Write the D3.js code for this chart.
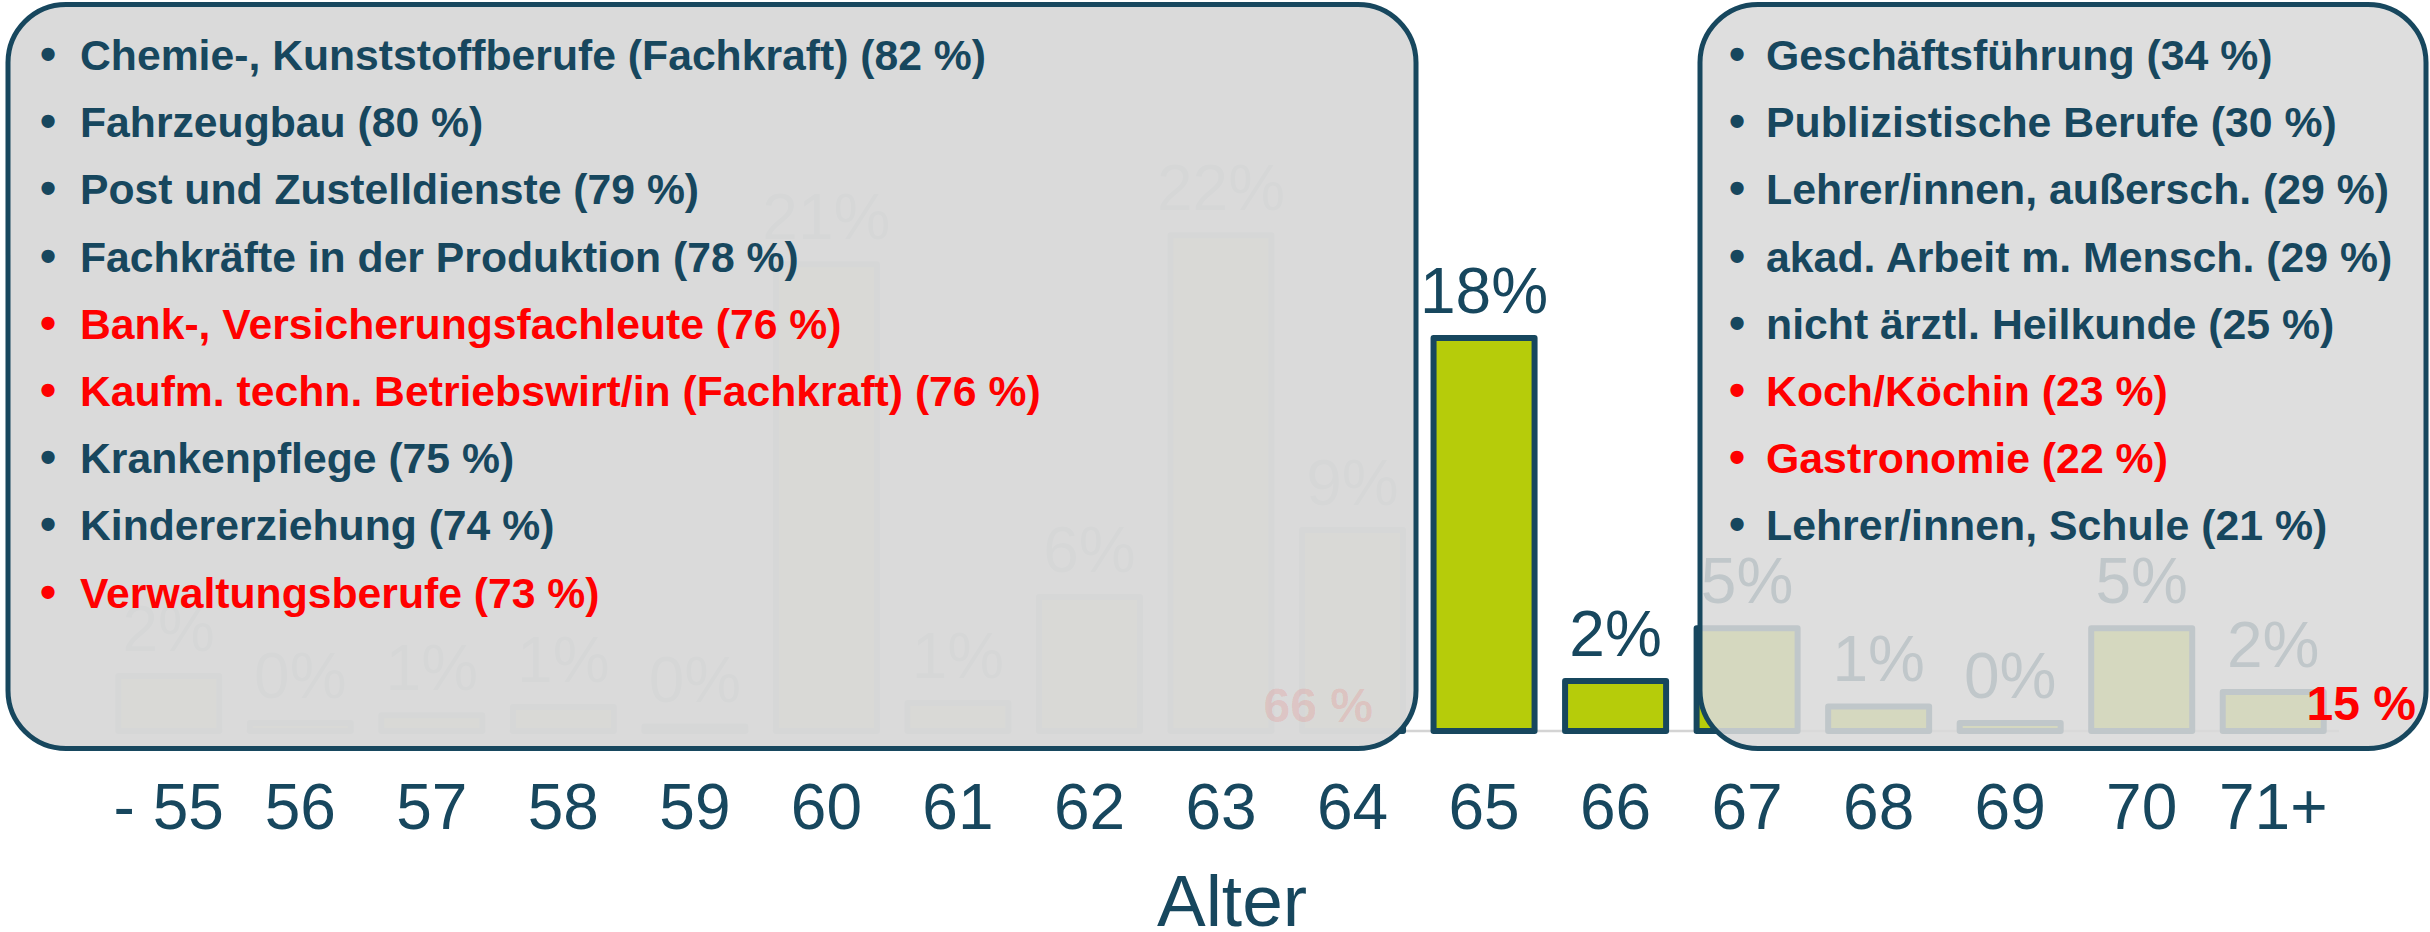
<!DOCTYPE html>
<html lang="de">
<head>
<meta charset="utf-8">
<title>Renteneintrittsalter</title>
<script src="https://cdn.jsdelivr.net/npm/d3@7"></script>
<style>
  html, body { margin: 0; padding: 0; background: #ffffff; }
  svg { display: block; }
  text { font-family: "Liberation Sans", Arial, Helvetica, sans-serif; }
</style>
</head>
<body>
<svg id="chart" width="2430" height="932"></svg>
<script>
// Age groups and share of retirements per age (in %)
const ages = ["- 55", "56", "57", "58", "59", "60", "61", "62", "63", "64",
              "65", "66", "67", "68", "69", "70", "71+"];
const shares = [2.46, 0.36, 0.7, 1.07, 0.2, 20.9, 1.25, 6.0, 22.2, 9.0,
                17.6, 2.24, 4.6, 1.1, 0.36, 4.6, 1.75];

// Summed shares for the groups before and after the standard age
const shareBefore65 = 66;
const shareAfter66 = 15;

// Occupations retiring early (left panel)
const earlyJobs = [
  "Chemie-, Kunststoffberufe (Fachkraft)",
  "Fahrzeugbau",
  "Post und Zustelldienste",
  "Fachkräfte in der Produktion",
  "Bank-, Versicherungsfachleute",
  "Kaufm. techn. Betriebswirt/in (Fachkraft)",
  "Krankenpflege",
  "Kindererziehung",
  "Verwaltungsberufe"
];
const earlyJobShares = [82, 80, 79, 78, 76, 76, 75, 74, 73];
const earlyJobHighlight = [false, false, false, false, true, true, false, false, true];

// Occupations retiring late (right panel)
const lateJobs = [
  "Geschäftsführung",
  "Publizistische Berufe",
  "Lehrer/innen, außersch.",
  "akad. Arbeit m. Mensch.",
  "nicht ärztl. Heilkunde",
  "Koch/Köchin",
  "Gastronomie",
  "Lehrer/innen, Schule"
];
const lateJobShares = [34, 30, 29, 29, 25, 23, 22, 21];
const lateJobHighlight = [false, false, false, false, false, true, true, false];

const TEAL = "#17475e";
const GREEN = "#b6cc0a";
const RED = "#ff0000";

const svg = d3.select("#chart");

const x = d3.scaleBand()
  .domain(ages)
  .range([103, 2339])
  .paddingInner(0.232)
  .paddingOuter(0.116);

const y = d3.scaleLinear()
  .domain([0, 25])
  .range([731, 731 - 25 * 22.33]);

const data = ages.map((a, i) => ({ age: a, value: shares[i] }));

// Baseline
svg.append("line")
  .attr("x1", x.range()[0]).attr("x2", x.range()[1])
  .attr("y1", y(0)).attr("y2", y(0))
  .attr("stroke", "#d4d4d4").attr("stroke-width", 2.5);

// Bars
svg.append("g").selectAll("rect")
  .data(data)
  .join("rect")
  .attr("x", d => x(d.age))
  .attr("y", d => y(d.value))
  .attr("width", x.bandwidth())
  .attr("height", d => y(0) - y(d.value))
  .attr("fill", GREEN)
  .attr("stroke", TEAL)
  .attr("stroke-width", 6)
  .attr("stroke-linejoin", "round");

// Value labels
svg.append("g").selectAll("text")
  .data(data)
  .join("text")
  .attr("x", d => x(d.age) + x.bandwidth() / 2)
  .attr("y", d => y(d.value) - 25)
  .attr("text-anchor", "middle")
  .attr("font-size", 64)
  .attr("fill", TEAL)
  .text(d => Math.round(d.value) + "%");

// Age axis
const axis = svg.append("g")
  .attr("transform", `translate(0,${y(0)})`)
  .call(d3.axisBottom(x).tickSize(0));
axis.select(".domain").remove();
axis.selectAll("text")
  .attr("y", 98).attr("dy", null)
  .attr("font-size", 64)
  .attr("font-family", "'Liberation Sans', Arial, sans-serif")
  .attr("fill", TEAL);

svg.append("text")
  .attr("x", 1232).attr("y", 926)
  .attr("text-anchor", "middle")
  .attr("font-size", 73)
  .attr("fill", TEAL)
  .text("Alter");

// Overlay panels with occupation lists
function panel(px, pw, opacity, names, values, highlight, bulletX, textX, fontSize) {
  svg.append("rect")
    .attr("x", px).attr("y", 4.5)
    .attr("width", pw).attr("height", 744)
    .attr("rx", 58).attr("ry", 58)
    .attr("fill", "#d9d9d9")
    .attr("fill-opacity", opacity)
    .attr("stroke", TEAL)
    .attr("stroke-width", 5);

  const g = svg.append("g");
  const rows = names.map((n, i) => ({ name: n, value: values[i], red: highlight[i] }));
  const lines = g.selectAll("g.line")
    .data(rows)
    .join("g")
    .attr("class", "line")
    .attr("transform", (d, i) => `translate(0,${70 + i * 67.2})`);
  lines.append("text")
    .attr("x", bulletX)
    .attr("text-anchor", "middle")
    .attr("font-size", 46).attr("font-weight", "bold")
    .attr("fill", d => d.red ? RED : TEAL)
    .text("•");
  lines.append("text")
    .attr("x", textX)
    .attr("font-size", fontSize).attr("font-weight", "bold")
    .attr("fill", d => d.red ? RED : TEAL)
    .text(d => `${d.name} (${d.value} %)`);
}

panel(8, 1408, 0.985, earlyJobs, earlyJobShares, earlyJobHighlight, 48, 80, 42.7);

// Summary share for ages up to 64, faded on the left panel
svg.append("text")
  .attr("x", 1373).attr("y", 722)
  .attr("text-anchor", "end")
  .attr("font-size", 48).attr("font-weight", "bold")
  .attr("fill", RED)
  .attr("fill-opacity", 0.11)
  .text(shareBefore65 + " %");

panel(1700, 726, 0.875, lateJobs, lateJobShares, lateJobHighlight, 1737, 1766, 42.8);

// Summary share for ages 67 and above
svg.append("text")
  .attr("x", 2416).attr("y", 720)
  .attr("text-anchor", "end")
  .attr("font-size", 48).attr("font-weight", "bold")
  .attr("fill", RED)
  .text(shareAfter66 + " %");
</script>
</body>
</html>
